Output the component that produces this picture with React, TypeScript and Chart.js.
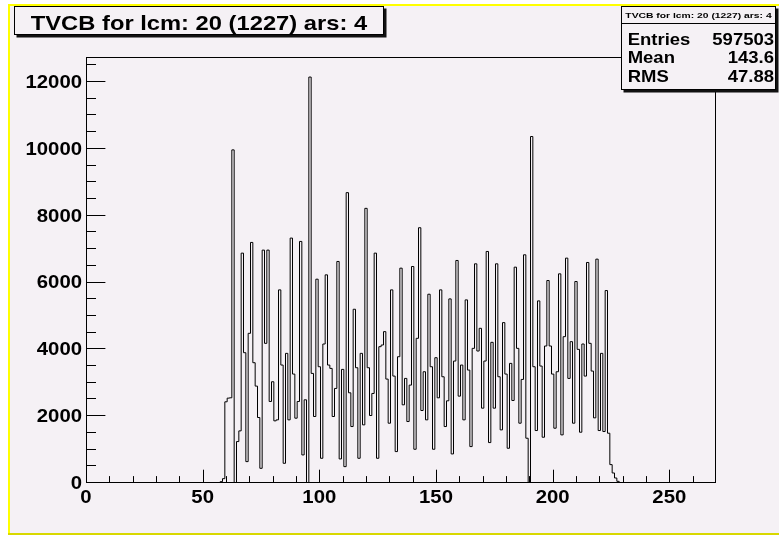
import React, { useEffect, useRef } from 'react';
import { Chart, registerables } from 'chart.js';

Chart.register(...registerables);

// ---- data ----
const histTitle = 'TVCB for lcm: 20 (1227) ars: 4';
const statLabels = ['Entries', 'Mean', 'RMS'];
const statValues = ['597503', '143.6', '47.88'];

const nBins = 270;
const histLow = -0.5; // lower edge of bin 0 (bins centred on integers)
const xAxisMin = 0;
const xAxisMax = 270;
const yAxisMax = 12750;

const firstFilledBin = 56;
const binCounts = [
  10, 40, 130, 2430, 2540, 2550, 9970, 0, 1240, 1560,
  6880, 3900, 640, 4480, 7200, 3600, 2900, 1960, 440, 6970,
  4180, 6970, 2440, 3030, 1860, 1890, 5780, 3530, 590, 3880,
  1890, 7330, 3260, 1940, 2440, 7230, 840, 2490, 0, 12150,
  3280, 1990, 6100, 3480, 740, 4160, 6230, 3530, 3430, 1990,
  2830, 6630, 720, 3400, 490, 8690, 2700, 1690, 5200, 3450,
  740, 3880, 1740, 8220, 3450, 2020, 2680, 6880, 740, 4080,
  4130, 4530, 3110, 1790, 5780, 3200, 940, 3780, 6430, 2340,
  3130, 1840, 2930, 6480, 1010, 4330, 7640, 2170, 3330, 1890,
  5650, 3480, 1010, 3750, 2550, 5780, 3180, 1690, 2460, 5510,
  870, 3650, 6660, 2600, 3530, 1890, 5480, 3380, 1090, 4030,
  6560, 3950, 4630, 2240, 3650, 6930, 1210, 4210, 2240, 6560,
  3180, 1590, 4800, 3260, 1040, 3580, 2470, 6460, 4030, 1790,
  3100, 6830, 1340, 0, 10370, 3480, 1570, 5450, 3500, 1370,
  4100, 6060, 4100, 3260, 1640, 3330, 6260, 1440, 4380, 6730,
  3130, 4230, 1790, 6030, 4000, 1520, 4160, 3200, 6600, 4180,
  3350, 1950, 6700, 1570, 3880, 1540, 5760, 1490, 550, 300,
  150, 50,
];

const xMajorTicks = [0, 50, 100, 150, 200, 250];
const xMinorTicks = [10, 20, 30, 40, 60, 70, 80, 90, 110, 120, 130, 140, 160, 170, 180, 190, 210, 220, 230, 240, 260];
const yMajorTicks = [0, 2000, 4000, 6000, 8000, 10000, 12000];
const yMinorTicks = [500, 1000, 1500, 2500, 3000, 3500, 4500, 5000, 5500, 6500, 7000, 7500, 8500, 9000, 9500, 10500, 11000, 11500, 12500];

// ---- style ----
const BG = '#f5f1f5';
const FONT = '"Liberation Sans", Arial, Helvetica, sans-serif';

function drawStretched(
  ctx: CanvasRenderingContext2D,
  text: string,
  x: number,
  y: number,
  font: string,
  align: 'left' | 'right' | 'center',
  sx: number
) {
  ctx.save();
  ctx.font = font;
  ctx.textAlign = 'left';
  ctx.textBaseline = 'alphabetic';
  const w = ctx.measureText(text).width * sx;
  let lx = x;
  if (align === 'right') lx = x - w;
  else if (align === 'center') lx = x - w / 2;
  ctx.translate(lx, y);
  ctx.scale(sx, 1);
  ctx.fillStyle = '#000';
  ctx.fillText(text, 0, 0);
  ctx.restore();
}

function shadowBox(ctx: CanvasRenderingContext2D, x: number, y: number, w: number, h: number) {
  ctx.save();
  ctx.fillStyle = '#111';
  ctx.fillRect(x + 2, y + 2, w + 1, h + 1);
  ctx.fillStyle = BG;
  ctx.fillRect(x, y, w, h);
  ctx.strokeStyle = '#000';
  ctx.lineWidth = 1;
  ctx.strokeRect(x, y, w, h);
  ctx.restore();
}

const decor = {
  id: 'rootDecor',
  beforeDraw(chart: any) {
    const ctx: CanvasRenderingContext2D = chart.ctx;
    ctx.save();
    ctx.fillStyle = '#ffffff';
    ctx.fillRect(0, 0, chart.width, chart.height);
    ctx.fillStyle = BG;
    ctx.fillRect(8, 4, chart.width - 8, 531);
    ctx.fillStyle = '#ffff00';
    ctx.fillRect(8, 4, 2, 531);
    ctx.fillRect(8, 4, chart.width - 8, 2);
    ctx.fillStyle = '#d8d800';
    ctx.fillRect(8, 533, chart.width - 8, 2);
    ctx.restore();
  },
  afterDraw(chart: any) {
    const ctx: CanvasRenderingContext2D = chart.ctx;
    const { left, right, top, bottom } = chart.chartArea;
    const xs = chart.scales.x;
    const ys = chart.scales.y;
    ctx.save();
    ctx.strokeStyle = '#000';
    ctx.lineWidth = 1;
    // frame
    ctx.strokeRect(left + 0.5, top + 0.5, right - left - 1, bottom - top - 1);
    // x ticks (inside, upward)
    const xb = bottom - 0.5;
    ctx.beginPath();
    xMajorTicks.forEach((v) => {
      const p = Math.round(xs.getPixelForValue(v)) + 0.5;
      ctx.moveTo(p, xb);
      ctx.lineTo(p, xb - 12.8);
    });
    xMinorTicks.forEach((v) => {
      const p = Math.round(xs.getPixelForValue(v)) + 0.5;
      ctx.moveTo(p, xb);
      ctx.lineTo(p, xb - 6.4);
    });
    // y ticks (inside, rightward)
    const yl = left + 0.5;
    yMajorTicks.forEach((v) => {
      const p = Math.round(ys.getPixelForValue(v)) - 0.5;
      ctx.moveTo(yl, p);
      ctx.lineTo(yl + 18.9, p);
    });
    yMinorTicks.forEach((v) => {
      const p = Math.round(ys.getPixelForValue(v)) - 0.5;
      ctx.moveTo(yl, p);
      ctx.lineTo(yl + 9.5, p);
    });
    ctx.stroke();
    ctx.restore();

    // tick labels
    const tickFont = `bold 18px ${FONT}`;
    xMajorTicks.forEach((v) => {
      drawStretched(ctx, String(v), xs.getPixelForValue(v), 503, tickFont, 'center', 1.13);
    });
    yMajorTicks.forEach((v) => {
      drawStretched(ctx, String(v), 82, ys.getPixelForValue(v) + 5.8, tickFont, 'right', 1.13);
    });

    // title box
    shadowBox(ctx, 14.5, 6.5, 369, 28);
    drawStretched(ctx, histTitle, 30.8, 30, `bold 21px ${FONT}`, 'left', 1.13);

    // stats box
    shadowBox(ctx, 621.5, 6.5, 154, 83);
    ctx.save();
    ctx.strokeStyle = '#000';
    ctx.beginPath();
    ctx.moveTo(621.5, 23.5);
    ctx.lineTo(775.5, 23.5);
    ctx.stroke();
    ctx.restore();
    drawStretched(ctx, histTitle, 698.5, 18, `bold 8px ${FONT}`, 'center', 1.29);
    const rowBase = [45, 63.3, 81.7];
    statLabels.forEach((lab, i) => {
      drawStretched(ctx, lab, 627.7, rowBase[i], `bold 16.5px ${FONT}`, 'left', 1.12);
      drawStretched(ctx, statValues[i], 774, rowBase[i], `bold 16.5px ${FONT}`, 'right', 1.12);
    });
  },
};

export default function App() {
  const canvasRef = useRef<HTMLCanvasElement | null>(null);

  useEffect(() => {
    document.body.style.margin = '0';
    const canvas = canvasRef.current;
    if (!canvas) return;

    const counts: number[] = [];
    for (let i = 0; i < nBins; i++) {
      const k = i - firstFilledBin;
      counts.push(k >= 0 && k < binCounts.length ? binCounts[k] : 0);
    }
    const binWidth = (xAxisMax - xAxisMin) / nBins;
    // each point sits at the low edge of its bin; 'before' stepping draws the bin top then the step
    const stepPoints = counts.map((c, i) => ({ x: histLow + (i + 1) * binWidth, y: c }));
    stepPoints.push({ x: xAxisMax, y: 0 });

    const chart = new Chart(canvas, {
      type: 'line',
      data: {
        datasets: [
          {
            data: stepPoints,
            borderColor: '#000',
            borderWidth: 1,
            pointRadius: 0,
            stepped: 'before',
            fill: false,
            tension: 0,
          },
        ],
      },
      options: {
        animation: false,
        responsive: false,
        devicePixelRatio: 1,
        events: [],
        layout: { padding: { top: 57, right: 63, left: 0, bottom: 0 } },
        plugins: {
          legend: { display: false },
          tooltip: { enabled: false },
          title: { display: false },
        },
        scales: {
          x: {
            type: 'linear',
            min: xAxisMin,
            max: xAxisMax,
            grid: { display: false, drawTicks: false },
            border: { display: false },
            ticks: { display: false },
            afterFit: (s: any) => {
              s.height = 53;
            },
          },
          y: {
            type: 'linear',
            min: 0,
            max: yAxisMax,
            grid: { display: false, drawTicks: false },
            border: { display: false },
            ticks: { display: false },
            afterFit: (s: any) => {
              s.width = 86;
            },
          },
        },
      } as any,
      plugins: [decor],
    });

    return () => {
      chart.destroy();
    };
  }, []);

  return (
    <div style={{ position: 'absolute', left: 0, top: 0, width: 779, height: 536 }}>
      <canvas ref={canvasRef} width={779} height={536} style={{ display: 'block', width: 779, height: 536 }} />
    </div>
  );
}
